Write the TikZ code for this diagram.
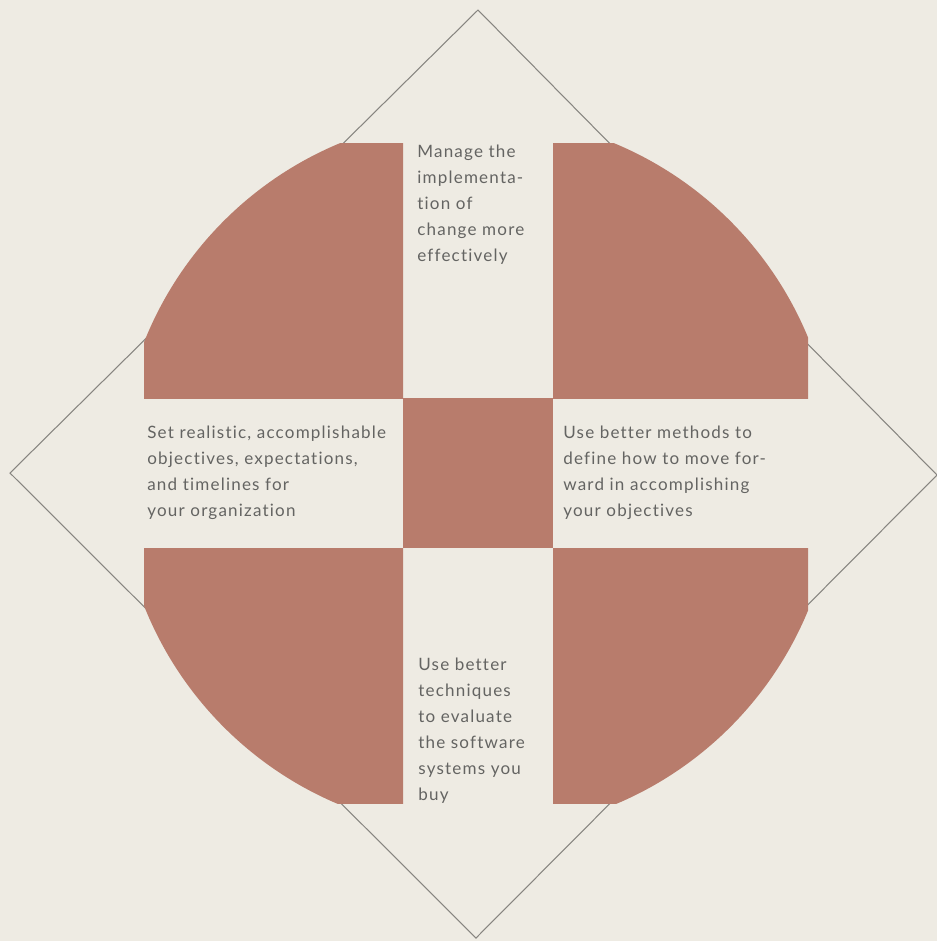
\documentclass[tikz,border=0pt]{standalone}
\usepackage{fontspec}
\setmainfont{Lato}[LetterSpace=7, Ligatures=NoCommon]
\definecolor{paper}{RGB}{238,235,227}
\definecolor{clay}{RGB}{184,124,108}
\definecolor{ink}{RGB}{100,100,98}
\definecolor{edge}{RGB}{135,133,128}

\begin{document}
\begin{tikzpicture}[x=0.02cm, y=-0.02cm, every node/.style={font=\fontsize{9.7}{14.8}\selectfont, text=ink, inner sep=0pt, anchor=north west, align=left}, quad/.style={fill=clay}]
	\fill[paper] (0,0) rectangle (937,941);
	\useasboundingbox (0,0) rectangle (937,941);
	\coordinate (T) at (478,10);
	\coordinate (R) at (937,475);
	\coordinate (B) at (476,938);
	\coordinate (L) at (10,473);
	\draw[edge, line width=0.6pt] (T) -- (R) -- (B) -- (L) -- cycle;
	\foreach \xa/\xb/\ya/\yb in {144/403/143/398, 553/808/143/398, 144/403/548/803, 553/808/548/803} {
		\begin{scope}
			\clip (\xa,\ya) rectangle (\xb,\yb);
			\fill[quad] (477,474) circle (358);
		\end{scope}}
	\fill[quad] (403,398) rectangle (553,548);
	\node (manage) at (417,145) {Manage the\\implementa-\\tion of\\change more\\effectively};
	\node (objectives) at (147,426) {Set realistic, accomplishable\\objectives, expectations,\\and timelines for\\your organization};
	\node (methods) at (563,426) {Use better methods to\\define how to move for-\\ward in accomplishing\\your objectives};
	\node (evaluate) at (418,658) {Use better\\techniques\\to evaluate\\the software\\systems you\\buy};
\end{tikzpicture}
\end{document}
